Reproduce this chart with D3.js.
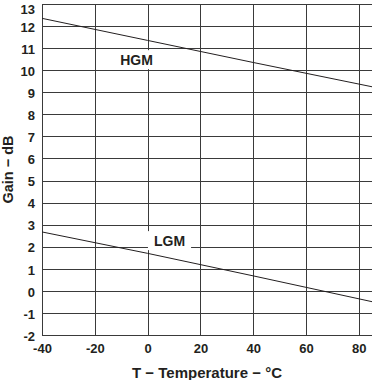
<!DOCTYPE html>
<html>
<head>
<meta charset="utf-8">
<script src="https://cdn.jsdelivr.net/npm/d3@7"></script>
<style>
  body { margin: 0; background: #fff; }
  text { font-family: "Liberation Sans", Arial, sans-serif; font-weight: bold; fill: #231f20; }
</style>
</head>
<body>
<div id="chart"></div>
<script>
// temperature in C, gain in dB
const temps = [-40, 0, 40, 85];
const hgmGain = [12.35, 11.35, 10.35, 9.25];
const lgmGain = [2.67, 1.70, 0.68, -0.49];
const xTicks = [-40, -20, 0, 20, 40, 60, 80];
const yTicks = d3.range(-2, 14);

const width = 373;
const height = 380;
const margin = { top: 4, right: 1, bottom: 45, left: 42 };

const svg = d3.select("#chart")
  .append("svg")
  .attr("width", width)
  .attr("height", height);

const x = d3.scaleLinear()
  .domain([-40, 85])
  .range([margin.left, width - margin.right]);

const y = d3.scaleLinear()
  .domain([-2, 13])
  .range([height - margin.bottom, margin.top]);

// grid
svg.append("g")
  .selectAll("line")
  .data(yTicks)
  .join("line")
  .attr("x1", x(-40)).attr("x2", x(85))
  .attr("y1", d => Math.round(y(d)) + 0.5).attr("y2", d => Math.round(y(d)) + 0.5)
  .attr("stroke", "#3a3a3a");

svg.append("g")
  .selectAll("line")
  .data(xTicks)
  .join("line")
  .attr("x1", d => Math.round(x(d)) + 0.5).attr("x2", d => Math.round(x(d)) + 0.5)
  .attr("y1", y(13)).attr("y2", y(-2))
  .attr("stroke", "#3a3a3a");

// axes (labels only), plain hyphen for minus like the original
const gx = svg.append("g")
  .attr("transform", `translate(0,${y(-2)})`)
  .call(d3.axisBottom(x).tickValues(xTicks).tickFormat(d => String(d)).tickSize(0).tickPadding(9));
gx.select(".domain").remove();
gx.selectAll("text").style("font-size", "13px").attr("fill", "#231f20");

const gy = svg.append("g")
  .attr("transform", `translate(${x(-40)},0)`)
  .call(d3.axisLeft(y).tickValues(yTicks).tickFormat(d => String(d)).tickSize(0).tickPadding(7));
gy.select(".domain").remove();
gy.selectAll("text").style("font-size", "13px").attr("fill", "#231f20")
  .attr("dy", d => d === 13 ? "0.75em" : "0.4em");

// curves
const line = d3.line()
  .x(d => x(d[0]))
  .y(d => y(d[1]));

[hgmGain, lgmGain].forEach(vals => {
  svg.append("path")
    .datum(temps.map((t, i) => [t, vals[i]]))
    .attr("fill", "none")
    .attr("stroke", "#231f20")
    .attr("stroke-width", 1)
    .attr("d", line);
});

// series labels with white box
function addLabel(txt, t, g) {
  const lab = svg.append("g");
  const rect = lab.append("rect").attr("fill", "#fff");
  const tx = lab.append("text")
    .attr("x", x(t))
    .attr("y", y(g))
    .attr("text-anchor", "middle")
    .attr("dy", "0.35em")
    .style("font-size", "14px")
    .text(txt);
  const bb = tx.node().getBBox();
  rect.attr("x", bb.x - 6).attr("y", bb.y - 2)
    .attr("width", bb.width + 12).attr("height", bb.height + 3);
}
addLabel("HGM", -4.2, 10.45);
addLabel("LGM", 8.3, 2.25);

// axis titles
svg.append("text")
  .attr("x", (x(-40) + x(85)) / 2)
  .attr("y", 378)
  .attr("text-anchor", "middle")
  .style("font-size", "15px")
  .text("T − Temperature − °C");

svg.append("text")
  .attr("transform", "rotate(-90)")
  .attr("x", -(y(-2) + y(13)) / 2)
  .attr("y", 12.5)
  .attr("text-anchor", "middle")
  .style("font-size", "14.5px")
  .text("Gain − dB");
</script>
</body>
</html>
